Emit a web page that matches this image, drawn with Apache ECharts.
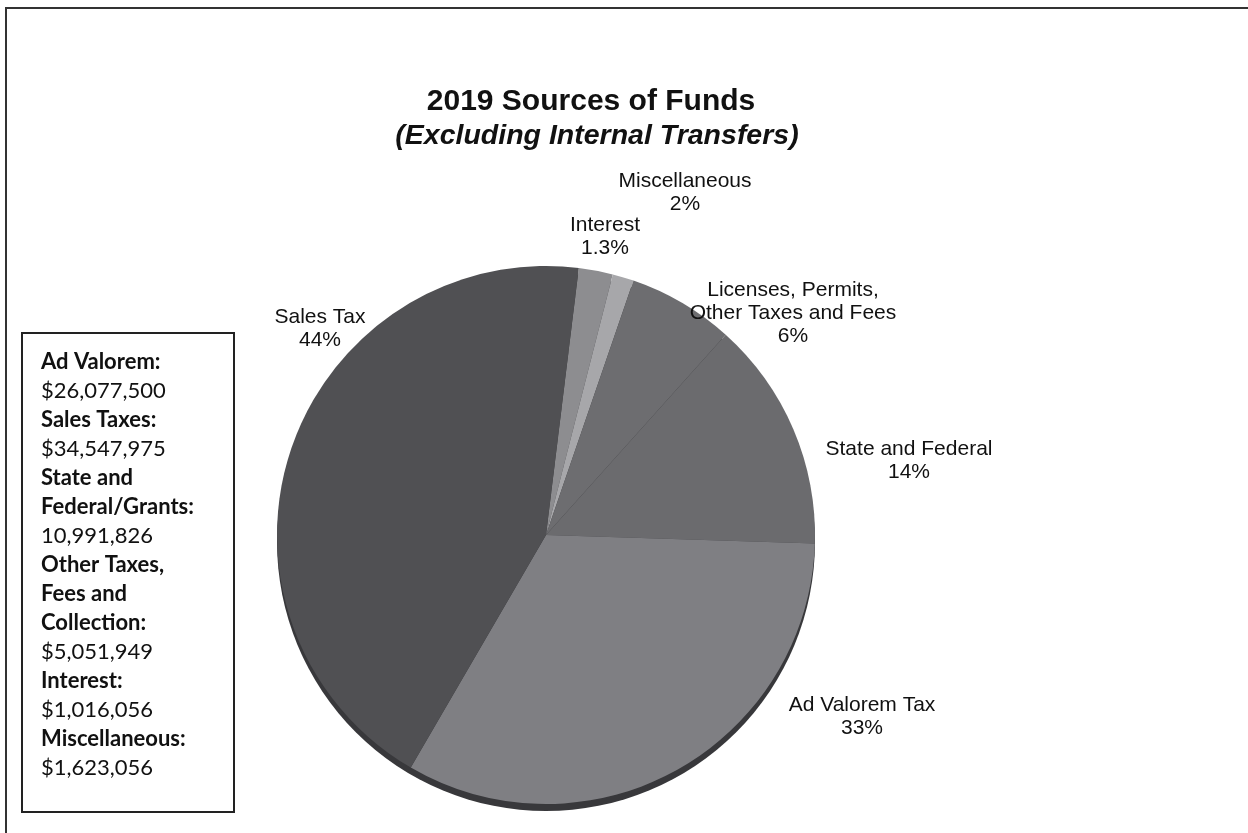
<!DOCTYPE html>
<html>
<head>
<meta charset="utf-8">
<script src="https://cdn.jsdelivr.net/npm/echarts@6/dist/echarts.min.js"></script>
<style>
html,body{margin:0;padding:0;background:#fff;}
#chart{width:1248px;height:833px;}
</style>
</head>
<body>
<div id="chart"></div>
<script>
// ---- data ----
var categories = ['Miscellaneous', 'Interest', 'Licenses, Permits,\nOther Taxes and Fees', 'State and Federal', 'Ad Valorem Tax', 'Sales Tax'];
var values = [1623056, 1016056, 5051949, 10991826, 26077500, 34547975];
var pctLabels = ['2%', '1.3%', '6%', '14%', '33%', '44%'];
var boxHeads = ['Ad Valorem:', 'Sales Taxes:', 'State and\nFederal/Grants:', 'Other Taxes,\nFees and\nCollection:', 'Interest:', 'Miscellaneous:'];
var boxAmounts = ['$26,077,500', '$34,547,975', '10,991,826', '$5,051,949', '$1,016,056', '$1,623,056'];
var titleText = '2019 Sources of Funds';
var subtitleText = '(Excluding Internal Transfers)';

// ---- styling (not data) ----
var sliceColors = ['#8d8d90', '#a7a7aa', '#6d6d70', '#6b6b6e', '#7f7f83', '#505053'];
var labelCenters = [[685, 193], [605, 237], [793, 313], [909, 461], [862, 717], [320, 329]];

var chart = echarts.init(document.getElementById('chart'));

var pieData = categories.map(function (c, i) {
  return { name: c, value: values[i], itemStyle: { color: sliceColors[i] } };
});

var boxLines = [];
boxHeads.forEach(function (h, i) {
  h.split('\n').forEach(function (l) { boxLines.push('{b|' + l + '}'); });
  boxLines.push('{n|' + boxAmounts[i] + '}');
});

var option = {
  backgroundColor: '#ffffff',
  animation: false,
  series: [
    {
      type: 'pie',
      silent: true,
      center: [546, 542],
      radius: 269,
      z: 1,
      label: { show: false },
      labelLine: { show: false },
      data: [{ value: 1, itemStyle: { color: '#38383b' } }]
    },
    {
      type: 'pie',
      silent: true,
      center: [546, 535],
      radius: 269,
      startAngle: 83,
      clockwise: true,
      z: 2,
      itemStyle: { borderWidth: 0 },
      label: {
        show: true,
        position: 'outside',
        fontFamily: 'Liberation Sans, Arial',
        fontSize: 21,
        lineHeight: 23,
        color: '#111',
        align: 'center',
        formatter: function (p) { return p.name + '\n' + pctLabels[p.dataIndex]; }
      },
      labelLine: { show: false },
      labelLayout: function (p) {
        var c = labelCenters[p.dataIndex];
        return { x: c[0], y: c[1], align: 'center', verticalAlign: 'middle' };
      },
      data: pieData
    }
  ],
  graphic: [
    {
      type: 'polyline',
      shape: { points: [[6, 833], [6, 8], [1248, 8]] },
      style: { stroke: '#333', lineWidth: 2, fill: null }
    },
    {
      type: 'text',
      x: 591, y: 102,
      style: { text: titleText, font: 'bold 30px "Liberation Sans", Arial', fill: '#111', textAlign: 'center', textVerticalAlign: 'middle' }
    },
    {
      type: 'text',
      x: 597, y: 136,
      style: { text: subtitleText, font: 'italic bold 28.5px "Liberation Sans", Arial', fill: '#111', textAlign: 'center', textVerticalAlign: 'middle' }
    },
    {
      type: 'rect',
      shape: { x: 22, y: 333, width: 212, height: 479 },
      style: { stroke: '#222', lineWidth: 2, fill: '#fff' }
    },
    {
      type: 'text',
      left: 41,
      top: 351,
      style: {
        text: boxLines.join('\n'),
        rich: {
          b: { fontFamily: 'Lato, Open Sans', fontWeight: 'bold', fontSize: 22, lineHeight: 29, fill: '#111' },
          n: { fontFamily: 'Lato, Open Sans', fontWeight: 'normal', fontSize: 22, lineHeight: 29, fill: '#111' }
        }
      }
    }
  ]
};
chart.setOption(option);
</script>
</body>
</html>
